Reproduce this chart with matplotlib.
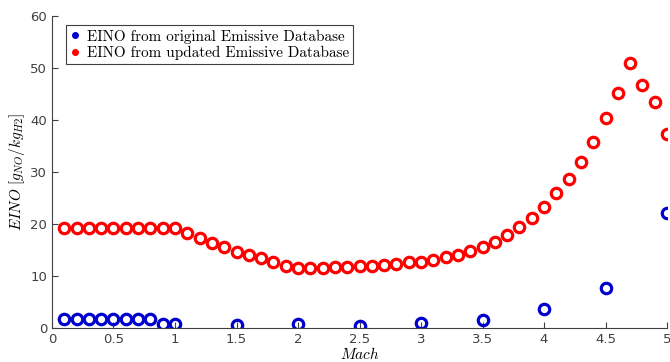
import numpy as np
import matplotlib.pyplot as plt
from matplotlib.ticker import FormatStrFormatter

plt.rcParams['mathtext.fontset'] = 'cm'

# EINO from the original emissive database (sparse Mach points)
mach_orig = [0.1, 0.2, 0.3, 0.4, 0.5, 0.6, 0.7, 0.8, 0.9, 1.0,
             1.5, 2.0, 2.5, 3.0, 3.5, 4.0, 4.5, 5.0]
eino_orig = [1.8, 1.8, 1.8, 1.8, 1.8, 1.8, 1.8, 1.8, 0.7, 0.7,
             0.5, 0.8, 0.4, 1.0, 1.6, 3.6, 7.7, 22.2]

# EINO from the updated emissive database, Mach 0.1 to 5.0
mach_upd = [round(0.1 * i, 1) for i in range(1, 51)]
eino_upd = [19.2, 19.3, 19.3, 19.3, 19.3, 19.3, 19.3, 19.3, 19.3, 19.2,
            18.2, 17.3, 16.3, 15.5, 14.7, 14.1, 13.4, 12.7, 12.0, 11.5,
            11.5, 11.6, 11.8, 11.8, 12.0, 12.0, 12.2, 12.3, 12.6, 12.7,
            13.1, 13.6, 14.1, 14.8, 15.6, 16.6, 17.9, 19.4, 21.2, 23.3,
            25.9, 28.6, 31.9, 35.8, 40.3, 45.1, 50.9, 46.8, 43.4, 37.3]

fig = plt.figure(figsize=(6.7, 3.62), dpi=100)
ax = fig.add_axes([0.0776, 0.094, 0.918, 0.862])

ax.plot(mach_orig, eino_orig, 'o', color='#0000cc', mfc='none', ms=7.5, mew=2.3,
        label='EINO from original Emissive Database')
ax.plot(mach_upd, eino_upd, 'o', color='#ff0000', mfc='none', ms=7.5, mew=2.3,
        label='EINO from updated Emissive Database')

ax.set_xlim(0, 5)
ax.set_ylim(0, 60)
ax.set_xticks(np.arange(0, 5.01, 0.5))
ax.set_yticks(np.arange(0, 61, 10))
ax.xaxis.set_major_formatter(FormatStrFormatter('%g'))
ax.tick_params(direction='in', length=4, labelsize=9.5, colors='#404040', width=0.8)
for s in ['top', 'right']:
    ax.spines[s].set_visible(False)
for s in ['left', 'bottom']:
    ax.spines[s].set_color('#404040')
    ax.spines[s].set_linewidth(0.8)

ax.set_xlabel(r'$Mach$', fontsize=11, labelpad=0)
ax.set_ylabel(r'$EINO\ [g_{NO}/kg_{H2}]$', fontsize=11, labelpad=2)

# small filled dots in the legend instead of the hollow markers
leg = ax.legend(loc='upper left', bbox_to_anchor=(0.023, 0.97), prop={'family': 'cmr10', 'size': 10.9},
                fancybox=False, edgecolor='#404040', framealpha=1, handlelength=0.6,
                handletextpad=0.5, borderpad=0.28, labelspacing=0.15, borderaxespad=0)
for h, c in zip(leg.legend_handles, ['#0000cc', '#ff0000']):
    h.set_markerfacecolor(c)
    h.set_markersize(4)
    h.set_markeredgewidth(1)
leg.get_frame().set_linewidth(0.8)

fig.savefig('out.png', dpi=100)
